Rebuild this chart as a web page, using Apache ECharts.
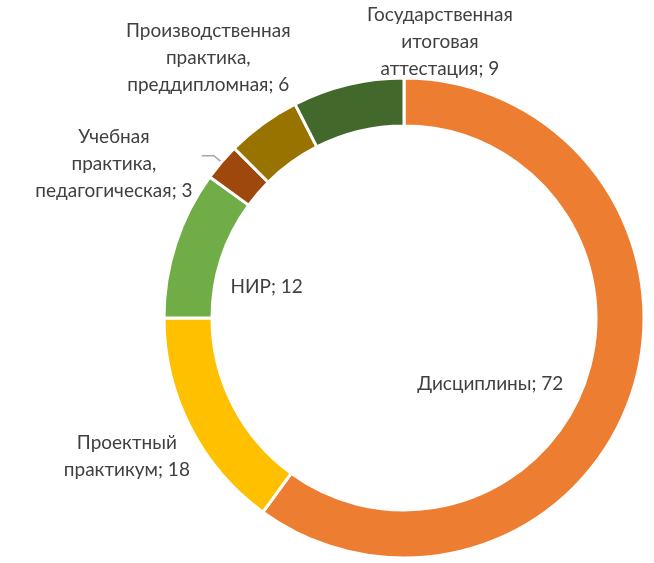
<!DOCTYPE html>
<html><head><meta charset="utf-8">
<script src="https://cdn.jsdelivr.net/npm/echarts@6/dist/echarts.min.js"></script>
<style>html,body{margin:0;padding:0;background:#fff}#c{width:654px;height:563px}</style>
</head><body><div id="c"></div>
<script>
const categories = ['Дисциплины', 'Проектный\nпрактикум', 'НИР', 'Учебная\nпрактика,\nпедагогическая', 'Производственная\nпрактика,\nпреддипломная', 'Государственная\nитоговая\nаттестация'];
const values = [72, 18, 12, 3, 6, 9];
const colors = ['#ED7D31', '#FFC000', '#70AD47', '#9E480E', '#997300', '#43682B'];
const labelShift = [[-122, -2], [-82, 39], [71, 37], [-83, 8], [-67, -83], [87, -63]];

const chart = echarts.init(document.getElementById('c'));
chart.setOption({
  animation: false,
  series: [{
    type: 'pie',
    center: [404, 318],
    radius: [192, 240],
    startAngle: 90,
    clockwise: true,
    avoidLabelOverlap: false,
    data: categories.map((n, i) => {
      const d = { name: n, value: values[i], itemStyle: { color: colors[i] } };
      if (i === 3) {
        d.label = { position: 'outside' };
        d.labelLine = { show: true, length: 10, length2: 12, lineStyle: { color: '#a6a6a6', width: 1.5 } };
      }
      return d;
    }),
    itemStyle: { borderColor: '#fff', borderWidth: 3 },
    label: {
      position: 'inside',
      formatter: p => p.name + '; ' + p.value,
      fontFamily: 'Lato', fontSize: 19, color: '#404040',
      lineHeight: 27, align: 'center'
    },
    labelLine: { show: false },
    labelLayout: p => ({ dx: labelShift[p.dataIndex][0], dy: labelShift[p.dataIndex][1], align: 'center' })
  }]
});
</script></body></html>
